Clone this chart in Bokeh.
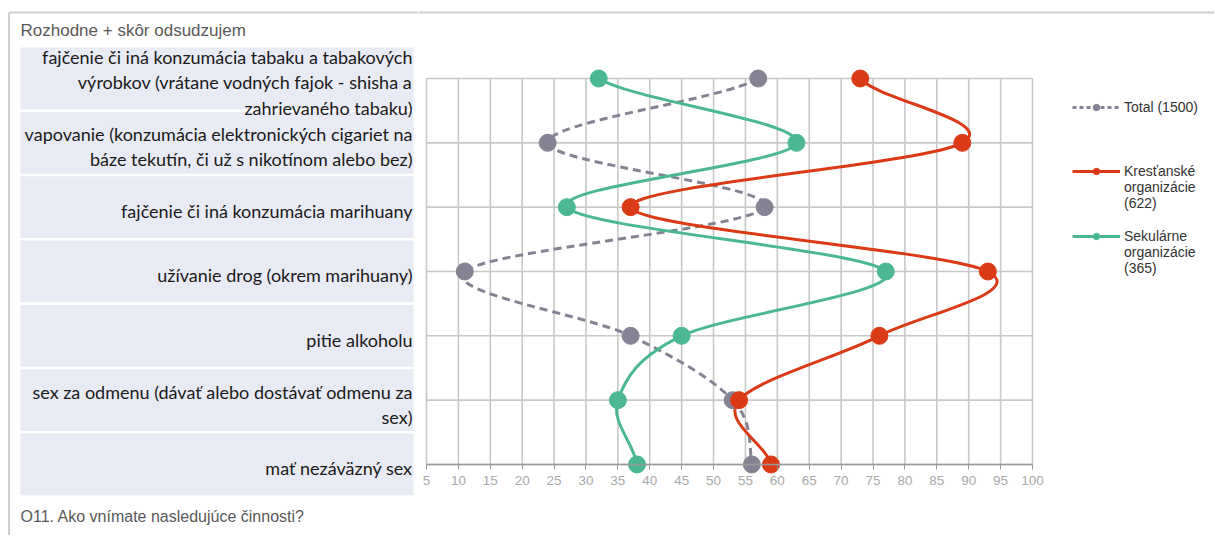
from bokeh.plotting import figure
from bokeh.models import Range1d, FixedTicker, Legend, LegendItem, ColumnDataSource, Span
from bokeh.layouts import row
from bokeh.embed import file_html
from bokeh.resources import INLINE
from bokeh.core.properties import value

# ---------------- data ----------------
categories = [
    "fajčenie či iná konzumácia tabaku a tabakových\nvýrobkov (vrátane vodných fajok - shisha a\nzahrievaného tabaku)",
    "vapovanie (konzumácia elektronických cigariet na\nbáze tekutín, či už s nikotínom alebo bez)",
    "fajčenie či iná konzumácia marihuany",
    "užívanie drog (okrem marihuany)",
    "pitie alkoholu",
    "sex za odmenu (dávať alebo dostávať odmenu za\nsex)",
    "mať nezáväzný sex",
]
total = [57, 24, 58, 11, 37, 53, 56]
krestanske = [73, 89, 37, 93, 76, 54, 59]
sekularne = [32, 63, 27, 77, 45, 35, 38]
x_ticks = list(range(5, 101, 5))
legend_first = ["Total (1500)", "Kresťanské", "Sekulárne"]
legend_rest = [None, "organizácie\n(622)", "organizácie\n(365)"]
title_text = "Rozhodne + skôr odsudzujem"
footer_text = "O11. Ako vnímate nasledujúce činnosti?"

GRAY = "#838393"
RED = "#db3a17"
GREEN = "#4bb893"
GRID = "#c8c8c8"
BORDER = "#cfcfcf"

pos = list(range(len(categories)))
NROW = len(categories)

# ---------------- geometry (pixels) ----------------
H = 535                 # canvas height
ROW_TOP = 78            # canvas y of first category line
ROW_PX = 64.33          # pixels between category lines
LW = 418                # label panel width
BLOCK_L, BLOCK_R = 20, 413
PXB = BLOCK_R - BLOCK_L
PW = 796                # plot canvas width
XMIN, XMAX = 5, 100
PLOT_L = 8              # x of value 5 in plot canvas
PXU = 606 / (XMAX - XMIN)
FRAME_B = 500           # plot frame bottom (canvas y)
LEG_X = 654


def spline_source(vals):
    n = len(vals)
    m = []
    for i in range(n):
        if i == 0:
            m.append((vals[1] - vals[0]) / 2)
        elif i == n - 1:
            m.append((vals[-1] - vals[-2]) / 2)
        else:
            m.append((vals[i + 1] - vals[i - 1]) / 2)
    return ColumnDataSource(dict(
        x0=vals[:-1], y0=pos[:-1], x1=vals[1:], y1=pos[1:],
        cx0=[vals[i] + m[i] / 3 for i in range(n - 1)],
        cy0=[pos[i] + 1 / 3 for i in range(n - 1)],
        cx1=[vals[i + 1] - m[i + 1] / 3 for i in range(n - 1)],
        cy1=[pos[i + 1] - 1 / 3 for i in range(n - 1)],
    ))


def row_units(canvas_y):
    return (canvas_y - ROW_TOP) / ROW_PX


def panel_units(canvas_x):
    return (canvas_x - BLOCK_L) / PXB


# ---------------- left label panel ----------------
lf = figure(width=LW, height=H,
            x_range=Range1d(panel_units(0), panel_units(LW)),
            y_range=Range1d(row_units(H), row_units(0)),
            output_backend="svg", toolbar_location=None,
            min_border_left=0, min_border_right=0, min_border_top=0, min_border_bottom=0,
            x_axis_location=None, y_axis_location=None, outline_line_color=None,
            frame_align=False)
lf.grid.visible = False
lf.hbar(y=pos, left=0, right=1, height=0.96, fill_color="#e8eaf4", line_color=None)
lf.text(x=[1] * NROW, y=pos, text=categories, text_align="right", text_baseline="middle",
        x_offset=-1, y_offset=4, text_font=value("Lato"), text_font_size="18px", text_color="#1a1a1a",
        text_line_height=1.15)
lf.text(x=[0], y=[row_units(30)], text=[title_text], text_align="left", text_baseline="middle",
        text_font=value("Liberation Sans"), text_font_size="17px", text_color="#595959")
lf.text(x=[0], y=[row_units(516)], text=[footer_text], text_align="left", text_baseline="middle",
        text_font=value("Liberation Sans"), text_font_size="16px", text_color="#595959")
# outer frame of the chart (left and top edges)
bx, by = panel_units(8.5), row_units(12)
lf.segment(x0=[bx, bx], y0=[by, by], x1=[bx, panel_units(LW)], y1=[row_units(H), by],
           line_color=BORDER, line_width=2)

# ---------------- main plot ----------------
x_start = XMIN - PLOT_L / PXU
p = figure(width=PW, height=H,
           x_range=Range1d(x_start, x_start + PW / PXU),
           y_range=Range1d(row_units(FRAME_B), row_units(0)),
           output_backend="svg", toolbar_location=None,
           min_border_left=0, min_border_right=0, min_border_top=0, min_border_bottom=H - FRAME_B,
           y_axis_location=None, outline_line_color=None, frame_align=False)
p.grid.visible = False
p.add_layout(Span(location=by, dimension="width", line_color=BORDER, line_width=2))

# grid lines of the plot area
p.segment(x0=x_ticks, y0=[pos[0]] * len(x_ticks), x1=x_ticks, y1=[pos[-1]] * len(x_ticks),
          line_color=GRID, line_width=1.6)
p.segment(x0=[XMIN] * NROW, y0=pos, x1=[XMAX] * NROW, y1=pos, line_color=GRID, line_width=1.6)

xa = p.xaxis[0]
xa.ticker = FixedTicker(ticks=x_ticks)
xa.bounds = (XMIN, XMAX)
xa.fixed_location = pos[-1]
xa.axis_line_color = "#999999"
xa.axis_line_width = 1.6
xa.major_tick_line_color = "#999999"
xa.major_tick_in = 0
xa.major_tick_out = 5
xa.minor_tick_line_color = None
xa.major_label_text_font = "Liberation Sans"
xa.major_label_text_font_size = "13.5px"
xa.major_label_text_color = "#a9a9a9"
xa.major_label_standoff = 7

series = [(total, GRAY, "8 5"), (krestanske, RED, "solid"), (sekularne, GREEN, "solid")]
for vals, color, dash in series:
    p.bezier(x0="x0", y0="y0", x1="x1", y1="y1", cx0="cx0", cy0="cy0", cx1="cx1", cy1="cy1",
             source=spline_source(vals), line_color=color, line_width=3, line_dash=dash)

nan = float("nan")
blank = p.line(x=[nan], y=[nan], line_alpha=0)
legend_tops = [98, 161, 226]    # canvas y of the top of each legend block
for (vals, color, dash), first, rest, top in zip(series, legend_first, legend_rest, legend_tops):
    p.scatter(x=vals, y=pos, size=17, fill_color=color, line_color=color)
    lr = p.line(x=[nan], y=[nan], line_color=color, line_width=3,
                line_dash=("4 3" if dash != "solid" else dash))
    mr = p.scatter(x=[nan], y=[nan], size=7, fill_color=color, line_color=color)
    items = [LegendItem(label=first, renderers=[lr, mr])]
    n_lines = 1
    if rest:
        items.append(LegendItem(label=rest, renderers=[blank]))
        n_lines += rest.count("\n") + 1
    height = n_lines * 16.5
    leg = Legend(items=items, location=(LEG_X, FRAME_B - top - height), margin=0, padding=0,
                 border_line_color=None, background_fill_alpha=0,
                 glyph_width=48, glyph_height=16, label_standoff=4, spacing=0, label_height=16,
                 label_text_font="Liberation Sans", label_text_font_size="14px",
                 label_text_color="#333333", label_text_line_height=1.18)
    p.add_layout(leg, "center")

layout = row(lf, p)
open("out.html", "w").write(file_html(layout, INLINE))
